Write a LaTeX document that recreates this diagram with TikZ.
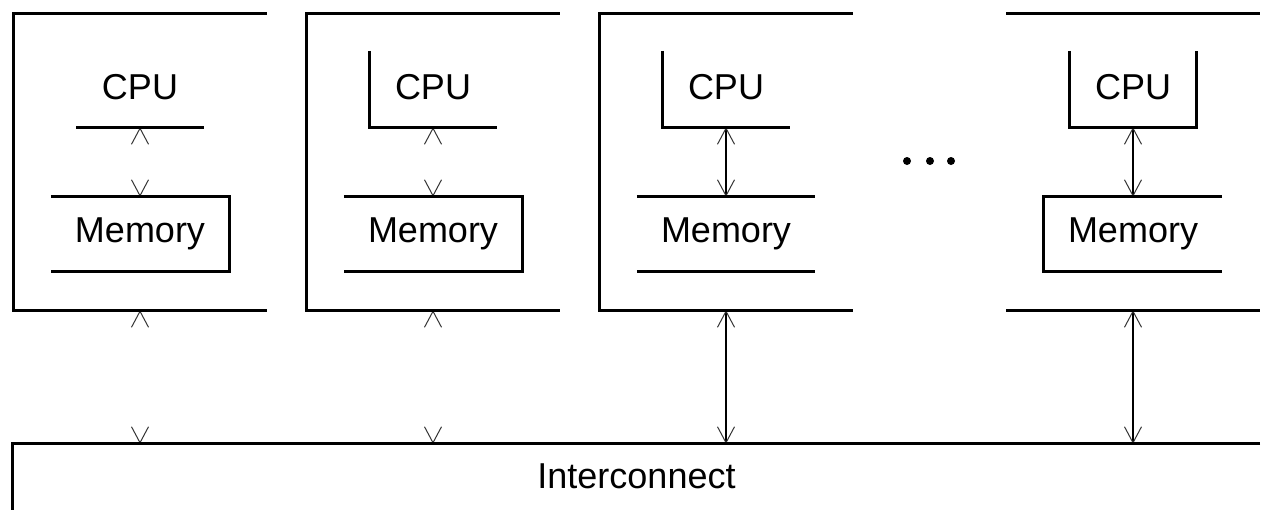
\documentclass[tikz,border=0pt]{standalone}
\usepackage{fontspec}
\setmainfont{Liberation Sans}
\usetikzlibrary{arrows.meta}
\tikzset{barbtip/.tip={Straight Barb[length=16pt,width=17pt,line width=1pt,color=black!80]}}
\begin{document}
\begin{tikzpicture}[x=1pt,y=-1pt,
  edge/.style={line width=3pt,black},
  outerbox/.style={rectangle,inner sep=0pt,minimum width=253pt,minimum height=296pt},
  cpubox/.style={rectangle,inner sep=0pt,minimum width=127pt,minimum height=76pt,font=\fontsize{36}{40}\selectfont},
  membox/.style={rectangle,inner sep=0pt,minimum width=178pt,minimum height=74pt,font=\fontsize{36}{40}\selectfont},
  link/.style={line width=2.4pt,black,arrows={barbtip-barbtip}},
  ghost/.style={line width=2.4pt,white,arrows={barbtip-barbtip}},
  dot/.style={circle,fill=black,inner sep=0pt,minimum size=8pt}]
\useasboundingbox (0,0) rectangle (1280,528);

% columns
\foreach \i/\cx in {1/140,2/433,3/726,4/1133}{
  \node[outerbox] (o\i) at (\cx,162) {};
  \node[cpubox] (c\i) at (\cx,89) {\raisebox{4pt}{CPU}};
  \node[membox] (m\i) at (\cx,234) {\raisebox{1pt}{Memory}};
}
\node[rectangle,inner sep=0pt,minimum width=1247pt,minimum height=66pt,
  font=\fontsize{36}{40}\selectfont] (ic) at (636.5,477) {\raisebox{1pt}{Interconnect}};

% connectors
\draw[ghost] (c1.south) -- (m1.north);
\draw[ghost] (c2.south) -- (m2.north);
\draw[link] (c3.south) -- (m3.north);
\draw[link] (c4.south) -- (m4.north);
\draw[ghost] (o1.south) -- (ic.north -| o1.south);
\draw[ghost] (o2.south) -- (ic.north -| o2.south);
\draw[link] (o3.south) -- (ic.north -| o3.south);
\draw[link] (o4.south) -- (ic.north -| o4.south);

% visible outlines
\draw[edge] (o1.north east) -- (o1.north west) -- (o1.south west) -- (o1.south east);
\draw[edge] (o2.north east) -- (o2.north west) -- (o2.south west) -- (o2.south east);
\draw[edge] (o3.north east) -- (o3.north west) -- (o3.south west) -- (o3.south east);
\draw[edge] (o4.north west) -- (o4.north east);
\draw[edge] (o4.south west) -- (o4.south east);

\draw[edge] (c1.south west) -- (c1.south east);
\draw[edge] (c2.north west) -- (c2.south west) -- (c2.south east);
\draw[edge] (c3.north west) -- (c3.south west) -- (c3.south east);
\draw[edge] (c4.north west) -- (c4.south west) -- (c4.south east) -- (c4.north east);

\draw[edge] (m1.north west) -- (m1.north east) -- (m1.south east) -- (m1.south west);
\draw[edge] (m2.north west) -- (m2.north east) -- (m2.south east) -- (m2.south west);
\draw[edge] (m3.north west) -- (m3.north east);
\draw[edge] (m3.south west) -- (m3.south east);
\draw[edge] (m4.north east) -- (m4.north west) -- (m4.south west) -- (m4.south east);

\draw[edge] (ic.north east) -- (ic.north west) -- (ic.south west);

% ellipsis
\node[dot] (d1) at (907,161) {};
\node[dot] (d2) at (930,161) {};
\node[dot] (d3) at (951,161) {};
\end{tikzpicture}
\end{document}
